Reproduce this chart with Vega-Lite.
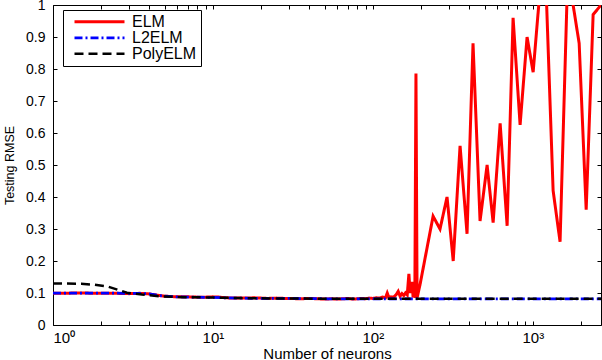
{
  "$schema": "https://vega.github.io/schema/vega-lite/v6.json",
  "width": 548,
  "height": 320,
  "autosize": {"type": "none"},
  "padding": {"left": 53, "top": 5, "right": 1, "bottom": 35},
  "background": "white",
  "config": {
    "font": "Liberation Sans",
    "view": {"stroke": "black", "strokeWidth": 1},
    "axis": {
      "grid": false,
      "domain": false,
      "tickColor": "black",
      "tickWidth": 1,
      "tickSize": -4,
      "labelColor": "black",
      "titleColor": "black",
      "labelFont": "Liberation Sans",
      "titleFont": "Liberation Sans",
      "titleFontWeight": "normal",
      "labelOverlap": false
    }
  },
  "datasets": {
    "rows": [
      {"model": "ELM", "n": 1, "rmse": 0.099},
      {"model": "ELM", "n": 1.5, "rmse": 0.1},
      {"model": "ELM", "n": 2, "rmse": 0.099},
      {"model": "ELM", "n": 2.5, "rmse": 0.099},
      {"model": "ELM", "n": 3, "rmse": 0.098},
      {"model": "ELM", "n": 3.5, "rmse": 0.099},
      {"model": "ELM", "n": 4, "rmse": 0.097},
      {"model": "ELM", "n": 4.5, "rmse": 0.093},
      {"model": "ELM", "n": 5, "rmse": 0.09},
      {"model": "ELM", "n": 6, "rmse": 0.088},
      {"model": "ELM", "n": 7, "rmse": 0.088},
      {"model": "ELM", "n": 8, "rmse": 0.087},
      {"model": "ELM", "n": 9, "rmse": 0.087},
      {"model": "ELM", "n": 10, "rmse": 0.088},
      {"model": "ELM", "n": 11, "rmse": 0.087},
      {"model": "ELM", "n": 12, "rmse": 0.085},
      {"model": "ELM", "n": 14, "rmse": 0.084},
      {"model": "ELM", "n": 16, "rmse": 0.084},
      {"model": "ELM", "n": 18, "rmse": 0.085},
      {"model": "ELM", "n": 20, "rmse": 0.084},
      {"model": "ELM", "n": 22, "rmse": 0.083},
      {"model": "ELM", "n": 25, "rmse": 0.084},
      {"model": "ELM", "n": 28, "rmse": 0.083},
      {"model": "ELM", "n": 30, "rmse": 0.083},
      {"model": "ELM", "n": 35, "rmse": 0.082},
      {"model": "ELM", "n": 40, "rmse": 0.083},
      {"model": "ELM", "n": 45, "rmse": 0.082},
      {"model": "ELM", "n": 50, "rmse": 0.081},
      {"model": "ELM", "n": 55, "rmse": 0.082},
      {"model": "ELM", "n": 60, "rmse": 0.081},
      {"model": "ELM", "n": 65, "rmse": 0.082},
      {"model": "ELM", "n": 70, "rmse": 0.083},
      {"model": "ELM", "n": 75, "rmse": 0.081},
      {"model": "ELM", "n": 80, "rmse": 0.082},
      {"model": "ELM", "n": 85, "rmse": 0.083},
      {"model": "ELM", "n": 90, "rmse": 0.082},
      {"model": "ELM", "n": 95, "rmse": 0.084},
      {"model": "ELM", "n": 100, "rmse": 0.083},
      {"model": "ELM", "n": 105, "rmse": 0.085},
      {"model": "ELM", "n": 110, "rmse": 0.084},
      {"model": "ELM", "n": 115, "rmse": 0.087},
      {"model": "ELM", "n": 120, "rmse": 0.085},
      {"model": "ELM", "n": 123, "rmse": 0.1},
      {"model": "ELM", "n": 126, "rmse": 0.086},
      {"model": "ELM", "n": 130, "rmse": 0.088},
      {"model": "ELM", "n": 135, "rmse": 0.087},
      {"model": "ELM", "n": 140, "rmse": 0.095},
      {"model": "ELM", "n": 144, "rmse": 0.105},
      {"model": "ELM", "n": 148, "rmse": 0.09},
      {"model": "ELM", "n": 152, "rmse": 0.098},
      {"model": "ELM", "n": 156, "rmse": 0.092},
      {"model": "ELM", "n": 160, "rmse": 0.1},
      {"model": "ELM", "n": 164, "rmse": 0.094},
      {"model": "ELM", "n": 168, "rmse": 0.16},
      {"model": "ELM", "n": 171, "rmse": 0.1},
      {"model": "ELM", "n": 173, "rmse": 0.115},
      {"model": "ELM", "n": 176, "rmse": 0.135},
      {"model": "ELM", "n": 178, "rmse": 0.095},
      {"model": "ELM", "n": 181, "rmse": 0.1},
      {"model": "ELM", "n": 183, "rmse": 0.085},
      {"model": "ELM", "n": 186, "rmse": 0.786},
      {"model": "ELM", "n": 189, "rmse": 0.085},
      {"model": "ELM", "n": 192, "rmse": 0.1},
      {"model": "ELM", "n": 197, "rmse": 0.125},
      {"model": "ELM", "n": 218, "rmse": 0.24},
      {"model": "ELM", "n": 238, "rmse": 0.34},
      {"model": "ELM", "n": 263, "rmse": 0.3},
      {"model": "ELM", "n": 291, "rmse": 0.4},
      {"model": "ELM", "n": 318, "rmse": 0.2},
      {"model": "ELM", "n": 351, "rmse": 0.56},
      {"model": "ELM", "n": 388, "rmse": 0.285},
      {"model": "ELM", "n": 423, "rmse": 0.88},
      {"model": "ELM", "n": 468, "rmse": 0.325},
      {"model": "ELM", "n": 518, "rmse": 0.5},
      {"model": "ELM", "n": 565, "rmse": 0.32},
      {"model": "ELM", "n": 625, "rmse": 0.63},
      {"model": "ELM", "n": 691, "rmse": 0.31},
      {"model": "ELM", "n": 753, "rmse": 0.96},
      {"model": "ELM", "n": 833, "rmse": 0.625},
      {"model": "ELM", "n": 921, "rmse": 0.9},
      {"model": "ELM", "n": 1005, "rmse": 0.79},
      {"model": "ELM", "n": 1111, "rmse": 1.05},
      {"model": "ELM", "n": 1211, "rmse": 1.05},
      {"model": "ELM", "n": 1340, "rmse": 0.42},
      {"model": "ELM", "n": 1481, "rmse": 0.26},
      {"model": "ELM", "n": 1639, "rmse": 1.03},
      {"model": "ELM", "n": 1787, "rmse": 1.0},
      {"model": "ELM", "n": 1950, "rmse": 0.88},
      {"model": "ELM", "n": 2157, "rmse": 0.36},
      {"model": "ELM", "n": 2384, "rmse": 0.97},
      {"model": "ELM", "n": 2670, "rmse": 1.0},
      {"model": "L2ELM", "n": 1, "rmse": 0.1},
      {"model": "L2ELM", "n": 2, "rmse": 0.1},
      {"model": "L2ELM", "n": 3, "rmse": 0.099},
      {"model": "L2ELM", "n": 3.5, "rmse": 0.099},
      {"model": "L2ELM", "n": 4, "rmse": 0.097},
      {"model": "L2ELM", "n": 4.5, "rmse": 0.093},
      {"model": "L2ELM", "n": 5, "rmse": 0.09},
      {"model": "L2ELM", "n": 6, "rmse": 0.088},
      {"model": "L2ELM", "n": 8, "rmse": 0.087},
      {"model": "L2ELM", "n": 10, "rmse": 0.086},
      {"model": "L2ELM", "n": 12, "rmse": 0.085},
      {"model": "L2ELM", "n": 15, "rmse": 0.084},
      {"model": "L2ELM", "n": 20, "rmse": 0.083},
      {"model": "L2ELM", "n": 30, "rmse": 0.083},
      {"model": "L2ELM", "n": 50, "rmse": 0.082},
      {"model": "L2ELM", "n": 100, "rmse": 0.082},
      {"model": "L2ELM", "n": 200, "rmse": 0.082},
      {"model": "L2ELM", "n": 500, "rmse": 0.082},
      {"model": "L2ELM", "n": 1000, "rmse": 0.082},
      {"model": "L2ELM", "n": 2670, "rmse": 0.082},
      {"model": "PolyELM", "n": 1, "rmse": 0.13},
      {"model": "PolyELM", "n": 1.5, "rmse": 0.129},
      {"model": "PolyELM", "n": 1.8, "rmse": 0.126},
      {"model": "PolyELM", "n": 2.2, "rmse": 0.12},
      {"model": "PolyELM", "n": 2.9, "rmse": 0.101},
      {"model": "PolyELM", "n": 3.6, "rmse": 0.095},
      {"model": "PolyELM", "n": 4.6, "rmse": 0.09},
      {"model": "PolyELM", "n": 6.5, "rmse": 0.087},
      {"model": "PolyELM", "n": 10, "rmse": 0.086},
      {"model": "PolyELM", "n": 15, "rmse": 0.084},
      {"model": "PolyELM", "n": 25, "rmse": 0.083},
      {"model": "PolyELM", "n": 50, "rmse": 0.082},
      {"model": "PolyELM", "n": 100, "rmse": 0.082},
      {"model": "PolyELM", "n": 200, "rmse": 0.082},
      {"model": "PolyELM", "n": 500, "rmse": 0.082},
      {"model": "PolyELM", "n": 1000, "rmse": 0.082},
      {"model": "PolyELM", "n": 2670, "rmse": 0.082}
    ]
  },
  "data": {"name": "rows"},
  "layer": [
    {
      "mark": {"type": "line", "clip": true},
      "encoding": {
        "x": {
          "field": "n",
          "type": "quantitative",
          "scale": {"type": "log", "domain": [1, 2670], "nice": false},
          "axis": {
            "orient": "bottom",
            "values": [1, 2, 3, 4, 5, 6, 7, 8, 9, 10, 20, 30, 40, 50, 60, 70, 80, 90, 100, 200, 300, 400, 500, 600, 700, 800, 900, 1000, 2000],
            "labelExpr": "datum.value == 1 ? '10⁰' : datum.value == 10 ? '10¹' : datum.value == 100 ? '10²' : datum.value == 1000 ? '10³' : ''",
            "labelFontSize": 15,
            "labelPadding": 9,
            "title": "Number of neurons",
            "titleFontSize": 15,
            "titlePadding": 1
          }
        },
        "y": {
          "field": "rmse",
          "type": "quantitative",
          "scale": {"domain": [0, 1], "nice": false},
          "axis": {
            "orient": "left",
            "values": [0, 0.1, 0.2, 0.3, 0.4, 0.5, 0.6, 0.7, 0.8, 0.9, 1],
            "labelExpr": "datum.value == 0 ? '0' : datum.value == 1 ? '1' : format(datum.value, '.1f')",
            "labelFontSize": 14,
            "labelPadding": 12,
            "title": "Testing RMSE",
            "titleFontSize": 12.5,
            "titlePadding": 9
          }
        },
        "color": {
          "field": "model",
          "type": "nominal",
          "scale": {"domain": ["ELM", "L2ELM", "PolyELM"], "range": ["#ff0000", "#0000ff", "#000000"]},
          "legend": {
            "orient": "none", "legendX": 10, "legendY": 5, "title": null,
            "strokeColor": "black", "fillColor": "white", "padding": 4,
            "symbolType": "stroke", "symbolSize": 2500, "symbolStrokeWidth": 2.5,
            "symbolOffset": 6, "labelOffset": 6, "clipHeight": 15.5, "rowPadding": -2.5,
            "labelFontSize": 16, "labelFont": "Liberation Sans", "labelColor": "black"
          }
        },
        "strokeDash": {
          "field": "model",
          "type": "nominal",
          "scale": {"domain": ["ELM", "L2ELM", "PolyELM"], "range": [[1, 0], [8, 3, 2, 3], [9, 5]]},
          "legend": {
            "orient": "none", "legendX": 10, "legendY": 5, "title": null,
            "strokeColor": "black", "fillColor": "white", "padding": 4,
            "symbolType": "stroke", "symbolSize": 2500, "symbolStrokeWidth": 2.5,
            "symbolOffset": 6, "labelOffset": 6, "clipHeight": 15.5, "rowPadding": -2.5,
            "labelFontSize": 16, "labelFont": "Liberation Sans", "labelColor": "black"
          }
        },
        "strokeWidth": {
          "field": "model",
          "type": "nominal",
          "scale": {"domain": ["ELM", "L2ELM", "PolyELM"], "range": [3, 2.5, 2.5]},
          "legend": null
        }
      }
    },
    {
      "mark": {"type": "point", "opacity": 0},
      "encoding": {
        "x": {
          "field": "n",
          "type": "quantitative",
          "axis": {
            "orient": "top",
            "values": [1, 2, 3, 4, 5, 6, 7, 8, 9, 10, 20, 30, 40, 50, 60, 70, 80, 90, 100, 200, 300, 400, 500, 600, 700, 800, 900, 1000, 2000],
            "labels": false,
            "title": null
          }
        },
        "y": {
          "field": "rmse",
          "type": "quantitative",
          "axis": {
            "orient": "right",
            "values": [0, 0.1, 0.2, 0.3, 0.4, 0.5, 0.6, 0.7, 0.8, 0.9, 1],
            "labels": false,
            "title": null
          }
        }
      }
    }
  ],
  "resolve": {"axis": {"x": "independent", "y": "independent"}}
}
